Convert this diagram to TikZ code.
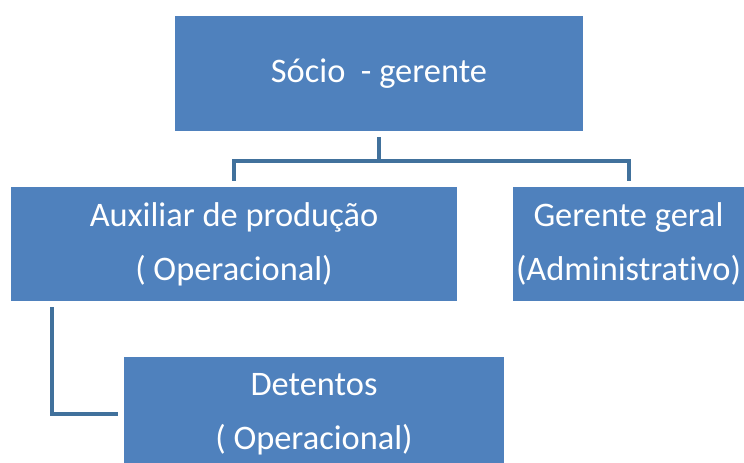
\documentclass[tikz,border=0pt]{standalone}
\usepackage{fontspec}
\setmainfont{Carlito}[Ligatures=NoCommon]
\definecolor{caixa}{HTML}{4F81BD}
\definecolor{linha}{HTML}{41719C}
\begin{document}
\begin{tikzpicture}[x=0.75pt, y=-0.75pt,
    cargo/.style={fill=caixa, text=white, align=center, inner sep=0pt,
        font=\fontsize{25.8}{40.5}\selectfont},
    liga/.style={draw=linha, line width=3pt, shorten <=4.5pt}]
\useasboundingbox (0,0) rectangle (744,462);
\begin{scope}
\clip (0,0) rectangle (744,462);
\node[cargo, minimum width=306pt, minimum height=86.25pt] (socio) at (379,73.5) {Sócio\ \ - gerente};
\node[cargo, minimum width=334.5pt, minimum height=85.5pt] (aux) at (234,244) {Auxiliar de produção\\( Operacional)};
\node[cargo, minimum width=173.25pt, minimum height=85.5pt] (ger) at (628.5,244) {Gerente geral\\(Administrativo)};
\node[cargo, minimum width=285pt, minimum height=85.5pt] (det) at (314,414) {Detentos\\( Operacional)};
\end{scope}
\coordinate (meio) at (379,161);
\coordinate (canto) at (52,414);
\draw[liga] (socio.south) -- (meio);
\draw[liga, shorten >=4.5pt] (aux.north) |- (meio) -| (ger.north);
\draw[liga, shorten >=4.5pt] (aux.south -| canto) |- (det.west);
\end{tikzpicture}
\end{document}
